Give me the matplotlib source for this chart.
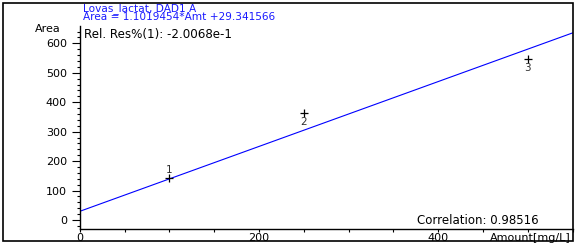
import matplotlib
matplotlib.use("Agg")
import matplotlib.pyplot as plt
from matplotlib.patches import Rectangle
from matplotlib.ticker import MultipleLocator

# Calibration standards
amounts = [100, 250, 500]
areas = [142, 363, 546]
level_labels = ["1", "2", "3"]

# Reported linear fit
slope = 1.1019454
intercept = 29.341566
correlation = 0.98516
rel_res = "-2.0068e-1"

W, H = 579, 247
plt.rcParams["font.family"] = ["DejaVu Sans"]
plt.rcParams["font.size"] = 8


def px(x, y):
    # pixel position (from top-left) -> figure fraction
    return x / W, 1 - y / H


fig = plt.figure(figsize=(W / 100, H / 100), dpi=100)
ax = fig.add_axes([79.7 / W, (H - 229) / H, (572.5 - 79.7) / W, (229 - 26) / H])

x_max = 550
ax.plot([0, x_max], [intercept, slope * x_max + intercept], color="#0000ff", lw=0.8)
ax.plot(amounts, areas, "+", color="black", ms=5.5, mew=0.9)
for a, v, lab in zip(amounts, areas, level_labels):
    dy = 27 if lab == "1" else -31
    ax.text(a, v + dy, lab, ha="center", va="center", fontsize=7.5, color="#303030")

ax.set_xlim(0, x_max)
ax.set_ylim(-30.6, 659)
ax.yaxis.set_major_locator(MultipleLocator(100))
ax.yaxis.set_minor_locator(MultipleLocator(20))
ax.xaxis.set_major_locator(MultipleLocator(200))
ax.xaxis.set_minor_locator(MultipleLocator(50))
ax.set_yticks([0, 100, 200, 300, 400, 500, 600])
ax.tick_params(axis="y", which="major", direction="out", length=5.8, width=0.8, pad=3.5,
               labelsize=8)
ax.tick_params(axis="y", which="minor", direction="out", length=2.2, width=0.8)
ax.tick_params(axis="x", which="major", direction="out", length=2.5, width=0.8, pad=0.6,
               labelsize=8)
ax.tick_params(axis="x", which="minor", direction="out", length=2.5, width=0.8)
for s in ["top", "right"]:
    ax.spines[s].set_visible(False)
for s in ["left", "bottom"]:
    ax.spines[s].set_linewidth(1.0)
ax.patch.set_alpha(0)

blue = "#1a1aff"
fig.text(*px(83, 10.8), "Lovas_lactat, DAD1 A", color=blue, fontsize=7.6, va="baseline", ha="left")
fig.text(*px(83, 20.5), f"Area = {slope:.7f}*Amt +{intercept:.6f}", color=blue, fontsize=7.6,
         va="baseline", ha="left")
fig.text(*px(84, 37.5), f"Rel. Res%(1): {rel_res}", fontsize=8.6, va="baseline", ha="left")
fig.text(*px(61, 32.5), "Area", fontsize=8, va="baseline", ha="right")
fig.text(*px(539, 224), f"Correlation: {correlation}", fontsize=8.5, va="baseline", ha="right")
fig.text(*px(571, 240.5), "Amount[mg/L]", fontsize=8, va="baseline", ha="right")

# outer frame
x0, y0 = px(3, 241)
x1, y1 = px(572.5, 3)
fig.patches.append(Rectangle((x0, y0), x1 - x0, y1 - y0, transform=fig.transFigure,
                             fill=False, lw=1.2, ec="black"))

fig.savefig("out.png", dpi=100)
